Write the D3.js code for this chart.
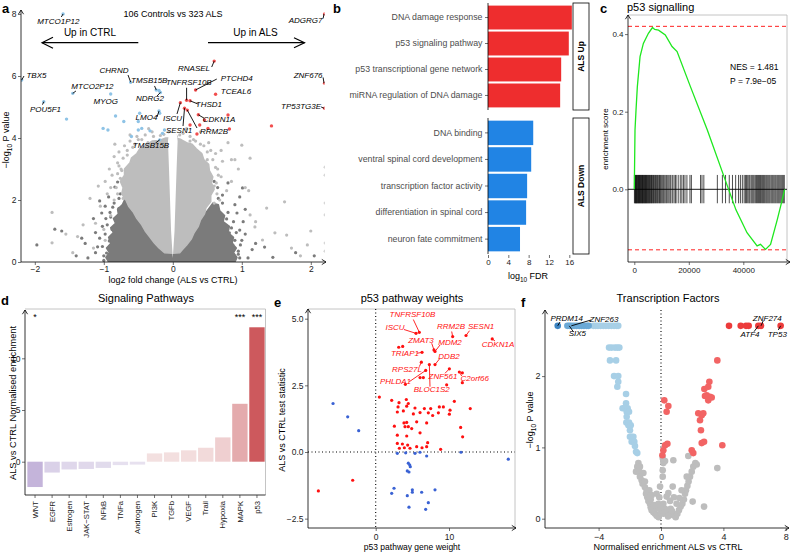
<!DOCTYPE html>
<html><head><meta charset="utf-8">
<script src="https://cdn.jsdelivr.net/npm/d3@7"></script>
<style>body{margin:0;background:#fff}svg{display:block}</style>
</head><body><svg id="fig" width="792" height="552"></svg>
<script>
const FONT = '"Liberation Sans", Arial, Helvetica, sans-serif';

// ================= DATA =================
// ---- panel a: volcano (log2FC, -log10 P) ----
const aLightCloud = [[0,0.28],[-0.12,0.3],[-0.2,0.45],[-0.27,0.62],[-0.33,0.8],[-0.4,1.0],[-0.45,1.2],[-0.52,1.4],[-0.57,1.6],[-0.64,1.8],[-0.68,2.0],[-0.74,2.2],[-0.72,2.4],[-0.76,2.6],[-0.7,2.8],[-0.7,3.0],[-0.62,3.2],[-0.6,3.35],[-0.52,3.5],[-0.48,3.65],[-0.38,3.78],[-0.3,3.9],[-0.2,3.92],[-0.1,4.0],[0.05,4.0],[0.12,3.95],[0.2,3.85],[0.28,3.8],[0.34,3.65],[0.42,3.5],[0.45,3.3],[0.52,3.15],[0.53,2.95],[0.58,2.75],[0.56,2.55],[0.6,2.35],[0.55,2.15],[0.55,1.95],[0.48,1.75],[0.46,1.55],[0.4,1.35],[0.37,1.15],[0.31,0.95],[0.27,0.75],[0.2,0.55],[0.14,0.4],[0.1,0.3]];
const aDarkCloud = [[-0.93,0],[-0.97,0.15],[-0.92,0.3],[-0.96,0.45],[-0.9,0.6],[-0.93,0.8],[-0.86,0.95],[-0.9,1.1],[-0.83,1.25],[-0.86,1.4],[-0.79,1.55],[-0.8,1.7],[-0.73,1.85],[-0.7,2.0],[-0.6,1.95],[-0.5,1.6],[0.45,1.5],[0.58,1.9],[0.66,1.85],[0.68,1.65],[0.75,1.5],[0.73,1.3],[0.82,1.15],[0.8,0.95],[0.88,0.8],[0.86,0.6],[0.92,0.45],[0.88,0.3],[0.93,0.15],[0.9,0]];
const aEmptyWedge = [[0,0.12],[-0.025,1],[-0.04,2],[-0.055,3],[-0.07,3.9],[-0.06,4.1],[0.06,4.1],[0.07,3.9],[0.055,3],[0.04,2],[0.025,1]];
const aLightPts = [[-1.75,1.6],[-1.75,0.62],[-1.3,1.2],[-1.38,0.82],[-1.12,1.25],[-1.05,1.8],[-1.08,2.45],[-0.98,2.6],[-0.92,3.0],[-0.85,3.4],[-0.78,3.55],[-0.7,3.75],[-0.62,3.9],[-0.52,4.05],[-0.4,4.1],[-0.3,4.2],[-0.18,4.08],[-1.2,2.05],[-0.95,2.2],[-0.9,1.5],[-1.0,1.05],[-0.88,2.8],[-0.8,3.2],[-1.15,0.45],[-0.98,0.7],[-0.85,2.0],[-0.9,2.4],[-0.75,3.0],[-0.66,3.45],[-0.58,3.7],[-1.45,0.3],[-1.55,0.9],
[0.05,4.05],[0.15,4.15],[0.25,4.05],[0.33,3.9],[0.45,3.75],[0.55,3.6],[0.8,3.85],[0.9,3.3],[0.72,3.25],[0.65,3.0],[0.95,3.0],[1.0,3.77],[1.12,3.35],[0.85,3.3],[1.05,2.4],[1.1,2.3],[1.36,1.74],[1.62,1.94],[1.12,1.52],[1.2,1.3],[1.19,1.13],[1.48,0.94],[1.65,0.87],[1.72,0.45],[1.3,0.71],[1.85,0.2],[0.85,2.6],[0.7,2.75],[0.78,2.3],[0.68,2.0],[1.95,0.55],[2.0,1.0],[2.21,3.06],[2.21,2.8],[2.21,1.9],[2.21,1.52],[2.21,0.61],[2.21,0.35],[0.62,3.5],[0.5,3.3],[-0.5,3.95],[-0.35,4.3],[0.2,4.3],[-0.06,4.2],
[-0.72,3.35],[-0.66,3.6],[-0.55,3.8],[-0.45,3.95],[-0.28,4.05],[-0.13,4.12],[0.1,4.1],[0.3,3.95],[0.4,3.8],[0.5,3.55],[0.58,3.3],[0.62,3.05],[0.66,2.8],[0.63,2.55],[-0.8,2.85],[-0.78,3.1],[-0.82,2.4],[-0.8,2.2],[0.52,3.85],[0.7,3.6],[-0.62,4.1],[-0.84,3.8],[0.4,4.2],[-0.76,2.7],[-0.74,2.95],[0.6,2.45],[0.64,2.2],[0.6,1.9],[-0.72,2.05],[-0.36,3.85],[0.25,3.9]];
const aDarkPts = [[-1.97,0.55],[-1.71,1.06],[-1.61,1.0],[-1.32,0.77],[-1.23,0.13],[-1.06,1.97],[-1.03,1.58],[-1.06,0.77],[-1.09,0.49],[-0.96,0.29],[-0.91,1.6],[-0.97,1.4],[-0.87,1.77],[-0.78,1.73],[-0.84,2.42],[-0.8,2.58],[-0.67,2.97],[-1.02,1.15],[-1.12,0.95],[-1.0,0.05],[-0.98,1.8],[-0.93,2.1],[-0.76,2.2],[-0.7,2.35],[-0.65,2.6],[-1.27,0.6],[-1.4,0.2],
[0.8,2.55],[1.01,2.39],[0.97,2.1],[0.72,2.16],[0.93,1.58],[0.78,1.39],[0.97,1.03],[0.82,0.94],[0.87,0.55],[1.33,0.48],[1.09,0.13],[0.97,0.13],[1.0,0.7],[1.02,1.3],[0.9,1.85],[0.65,2.4],[0.6,2.6],[0.95,0.35],[1.15,0.4],[1.05,1.7],[1.45,0.15],[1.78,0.3],[2.05,0.2],
[-1.0,0.2],[-1.02,0.5],[-0.98,0.9],[-0.95,1.2],[-0.9,1.45],[-0.85,1.9],[-0.78,2.05],[0.95,0.25],[0.98,0.55],[0.92,0.95],[0.88,1.3],[0.8,1.6],[0.72,1.9],[0.66,2.05],[1.05,0.9],[-1.12,0.3],[-1.15,1.4],[1.2,0.6],[-0.88,1.05],[-0.92,0.68],[0.85,1.1],[0.9,0.7]];
const aBlue = [[-1.59,8.0],[-2.19,5.87],[-1.87,5.17],[-1.45,5.44],[-0.9,5.42],[-0.61,5.8],[-0.24,5.55],[-0.2,5.53],[-0.18,5.47],[-0.2,4.87],[-0.19,3.94],[-1.54,4.61],[-1.01,4.31],[-0.94,4.26],[-0.83,4.71],[-0.71,4.53],[-0.5,4.53],[-0.48,4.8],[-0.5,4.26],[-0.45,4.31],[-0.19,4.8],[-0.12,4.26],[-0.33,4.23],[-0.15,4.15],[-0.6,4.05]];
const aRed = [[0.6,6.48],[0.33,5.55],[0.62,5.41],[0.2,5.22],[0.25,5.2],[0.11,5.14],[0.17,4.96],[0.21,4.9],[0.37,4.75],[0.46,4.58],[0.39,4.42],[0.8,4.74],[0.82,4.29],[0.51,4.31],[0.25,4.42],[1.43,4.39],[2.2,8.0],[2.2,5.77],[2.2,4.96],[0.35,4.13]];
const aGenes = [["MTCO1P12",-1.59,8.0],["TBX5",-2.19,5.87],["POU5F1",-1.87,5.17],["MTCO2P12",-1.45,5.44],["MYOG",-0.9,5.42],["CHRND",-0.61,5.8],["TMSB15B",-0.24,5.55],["NDRG2",-0.18,5.47],["LMO4",-0.2,4.87],["TMSB15B ",-0.19,3.94],["TNFRSF10B",0.2,5.22],["RNASEL",0.6,6.48],["PTCHD4",0.33,5.55],["TCEAL6",0.62,5.41],["THSD1",0.25,5.2],["ISCU",0.11,5.14],["CDKN1A",0.37,4.75],["SESN1",0.17,4.96],["RRM2B",0.21,4.9],["ADGRG7",2.2,8.0],["ZNF676",2.2,5.77],["TP53TG3E",2.2,4.96]];
// label layout (pixel offsets of text centre and leader start, relative to the point)
const aLabelLayout = {"MTCO1P12":[-4.8,10,-1.8,3],"TBX5":[14.8,-2,2.3,-4],"POU5F1":[1.7,10.4,-1.3,2.9],"MTCO2P12":[19.7,-3.9,3.2,-2.4],"MYOG":[-4.9,10,null,null],"CHRND":[-16.7,-9.2,-2.7,-7.2],"TMSB15B":[-7,-7,-1.7,-4],"NDRG2":[-10.4,8.7,-3.4,3.7],"LMO4":[-12.5,9,-2,6],"TMSB15B ":[-8.7,8.2,-4.2,3.2],"TNFRSF10B":[2.2,-15.4,0,-12.4],"RNASEL":[-20.2,9.6,-2.5,5.9],"PTCHD4":[41.2,-9.2,21.2,-10.9],"TCEAL6":[20.4,0,null,null],"THSD1":[18.9,6.2,7.9,3.2],"ISCU":[-7.9,18,-3.4,11.3],"CDKN1A":[20.7,7.7,5.7,3.4],"SESN1":[-5.5,25.1,-1.5,17.8],"RRM2B":[26.7,24.2,9.7,17.9],"ADGRG7":[-19,9.3,-1.5,4.5],"ZNF676":[-16.5,-5.5,-1.5,-5.7],"TP53TG3E":[-23.5,1,-3.5,-1.3]};
const aXTicks = [-2,-1,0,1,2], aYTicks = [0,2,4,6,8];

// ---- panel b: enrichment FDR ----
const bUpTerms = ["DNA damage response","p53 signaling pathway","p53 transcriptional gene network","miRNA regulation of DNA damage"];
const bUpFDR = [16.5, 15.9, 14.4, 14.2];
const bDownTerms = ["DNA binding","ventral spinal cord development","transcription factor activity","differentiation in spinal cord","neuron fate commitment"];
const bDownFDR = [8.9, 8.5, 7.7, 7.5, 6.3];
const bTicks = [0,4,8,12,16];

// ---- panel c: GSEA ----
const cRank  = [0,260,630,1110,2110,3330,5180,6670,7500,8890,11370,13850,15700,20630,26800,32960,37300,41360,45060,46300,48150,50000,52470,54320,55190];
const cScore = [0,0.153,0.204,0.264,0.342,0.376,0.402,0.417,0.412,0.41,0.398,0.368,0.355,0.264,0.153,0.032,-0.053,-0.112,-0.146,-0.142,-0.155,-0.142,-0.078,-0.026,0];
const cHits = [40,260,410,590,700,880,1020,1240,1390,1530,1760,1900,2080,2310,2450,2620,2870,3010,3180,3420,3560,3790,3950,4120,4380,4520,4760,4990,5130,5370,5620,5800,6040,6310,6490,6770,7020,7260,7540,7810,8090,8420,8650,8990,9270,9560,9880,10240,10610,10930,11320,11750,12100,12640,13080,13420,13970,14560,15040,15330,16120,16870,17450,18030,18590,19310,20420,20950,24310,24840,25520,30480,32330,33480,34850,36030,37190,38260,38940,39650,40310,40780,41160,41620,42050,42390,42870,43240,43610,43980,44420,44830,45190,45570,45960,46310,46720,47090,47450,47830,48240,48610,48990,49370,49740,50160,50530,50880,51260,51650,52010,52420,52790,53150,53530,53920,54310,54680,55050];
const cMaxES = 0.42, cMinES = -0.156;
const cXTicks = [0,20000,40000], cYTicks = [0,0.2,0.4];

// ---- panel d: signaling pathways ----
const dPathways = ["WNT","EGFR","Estrogen","JAK−STAT","NFkB","TNFa","Androgen","PI3K","TGFb","VEGF","Trail","Hypoxia","MAPK","p53"];
const dScores = [-2.45,-1.05,-0.75,-0.7,-0.6,-0.33,-0.28,0.8,0.9,1.1,1.35,2.35,5.6,13.0];
const dStars = ["*","","","","","","","","","","","","***","***"];
const dYTicks = [0,5,10];

// ---- panel e: p53 pathway weights (weight, test statistic) ----
const eRed = [[5.95,4.49],[5.5,4.45],[10.5,4.33],[12.32,4.37],[15.9,4.24],[7.95,3.83],[8.09,3.77],[6.32,3.74],[8.09,3.28],[6.23,3.37],[6.82,3.06],[10.05,3.12],[11.41,3.0],[7.32,3.28],[3.14,3.93],[3.68,3.96],[6.05,2.79],[6.5,2.79],[4.05,2.54],[9.68,2.52],[11.82,2.6],[11.82,2.97],
[0.5,2.06],[2.18,1.94],[4.18,1.97],[3.18,1.85],[4.45,1.82],[10.73,1.9],[12.9,1.63],[3.05,1.69],[4.23,1.72],[5.36,1.65],[6.64,1.63],[7.5,1.63],[8.68,1.69],[9.23,1.69],[10.14,1.57],[2.95,1.5],[3.77,1.54],[5.14,1.43],[6.05,1.48],[7.18,1.47],[7.77,1.37],[8.55,1.47],[10.05,1.42],[3.86,1.09],[4.23,1.11],[5.59,1.13],[6.95,1.09],[2.55,0.97],[4.0,0.95],[4.45,0.95],[4.91,0.88],[11.59,0.92],[2.95,0.63],[4.23,0.6],[6.05,0.72],[11.86,0.57],[2.95,0.32],[3.64,0.3],[4.36,0.26],[5.59,0.2],[3.91,0.16],[4.68,0.14],[6.32,0.16],[6.95,0.2],[8.86,0.1],[3.23,0.14],[7.09,0.35],[-7.82,-1.46],[-3.14,-1.06]];
const eBlue = [[-5.82,1.82],[-3.82,1.32],[-2.32,0.8],[2.95,-0.05],[4.09,-0.03],[5.36,-0.05],[6.04,-0.01],[6.95,-0.15],[11.64,-0.01],[18.09,-0.27],[4.45,-0.42],[4.72,-0.55],[4.63,-0.48],[4.31,-0.71],[4.54,-0.75],[2.5,-1.36],[2.18,-1.55],[4.31,-1.64],[5.0,-1.42],[5.0,-1.51],[6.27,-1.51],[8.09,-1.42],[7.18,-1.9],[6.82,-2.15],[4.54,-2.07]];
const eGenes = [["TNFRSF10B",5.95,4.49],["ISCU",5.5,4.45],["RRM2B",10.5,4.33],["SESN1",12.32,4.37],["CDKN1A",15.9,4.24],["ZMAT3",7.95,3.83],["MDM2",8.09,3.77],["TRIAP1",6.32,3.74],["DDB2",8.09,3.28],["RPS27L",6.23,3.37],["PHLDA1",6.82,3.06],["ZNF561",10.05,3.12],["C2orf66",11.41,3.0],["BLOC1S2",7.32,3.28]];
const eLabelLayout = {"TNFRSF10B":[412.5,316.7,413.3,319.5],"ISCU":[395,330,404,329.5],"RRM2B":[451,329.3,451.7,331.5],"SESN1":[481,329.3,469.5,330.7],"CDKN1A":[498,346.7,495,341],"ZMAT3":[421,342.7,431.7,343.3],"MDM2":[450,345,440,345],"TRIAP1":[405,356,417,353.3],"DDB2":[449,359.3,440,358.3],"RPS27L":[407,371.7,419.3,366.7],"PHLDA1":[395.5,384.3,409.3,381.7],"ZNF561":[443,379.3,445,373.3],"C2orf66":[474.7,380.7,461.7,376],"BLOC1S2":[431.7,391.7,430,386.7]};
const eXTicks = [0,10], eYTicks = [-2.5,0,2.5,5];

// ---- panel f: transcription factors ----
const fGray = [[-1.45,0.78],[-1.52,0.73],[-1.6,0.66],[-1.39,0.66],[-1.35,0.59],[-1.24,0.54],[-1.18,0.49],[-1.03,0.44],[-0.92,0.39],[-0.96,0.35],[-0.88,0.3],[-0.81,0.25],[-0.71,0.21],[-0.66,0.16],[-0.6,0.12],[-0.49,0.09],[-0.38,0.07],[-0.28,0.04],[-0.15,0.02],[-0.32,0.14],[-0.45,0.19],[-0.66,0.27],[-0.17,0.21],[-0.11,0.3],[-0.28,0.35],[-0.06,0.45],[0.11,0.59],[0.11,0.68],[0.15,0.78],[0.26,0.81],[0.11,0.85],[-1.13,0.64],[-1.03,0.52],[-0.75,0.4],[-0.6,0.33],[-1.35,0.73],
[0.15,0.21],[0.26,0.14],[0.36,0.1],[0.58,0.07],[0.79,0.05],[0.94,0.02],[1.05,0.07],[1.15,0.12],[1.26,0.17],[1.37,0.21],[1.47,0.27],[1.54,0.35],[1.6,0.4],[1.69,0.46],[1.77,0.52],[1.86,0.59],[1.97,0.66],[2.07,0.73],[2.2,0.78],[2.29,0.76],[1.75,0.88],[0.79,0.82],[0.75,0.45],[0.36,0.31],[0.58,0.25],[1.0,0.21],[2.03,0.24],[2.76,0.17],[3.61,0.71],[0.47,0.36],[0.83,0.3],[1.32,0.4],[1.18,0.29],[1.65,0.59],[0.62,0.14],[0.0,0.08],[0.15,0.07],[0.45,0.03],[-0.05,0.15],[0.7,0.11]];
const fBlueTop = [[-6.0,2.705],[-5.88,2.705],[-5.75,2.705],[-5.58,2.705],[-5.41,2.705],[-5.24,2.705],[-5.09,2.705],[-4.94,2.705],[-4.76,2.705],[-4.64,2.705]];
const fBlueDark = [[-6.62,2.705]];
const fBlue = [[-4.34,2.705],[-4.19,2.705],[-4.04,2.705],[-3.87,2.705],[-3.7,2.705],[-3.53,2.705],[-3.35,2.705],[-3.18,2.705],[-3.01,2.705],[-2.84,2.705],[-2.74,2.705],
[-3.33,2.4],[-3.16,2.4],[-2.95,2.4],[-2.8,2.4],[-2.67,2.4],[-3.27,2.22],[-2.88,2.22],[-3.01,2.0],[-2.74,2.0],[-2.74,1.92],[-2.8,1.85],[-2.24,1.75],[-2.24,1.62],[-2.46,1.55],[-2.31,1.55],[-2.14,1.55],[-2.2,1.5],[-2.05,1.5],[-2.2,1.43],[-2.22,1.35],[-2.05,1.35],[-2.09,1.31],[-1.94,1.31],[-1.99,1.24],[-1.99,1.15],[-1.88,1.15],[-1.77,1.15],[-1.88,1.08],[-1.71,1.08],[-1.67,1.02],[-1.6,0.94],[-1.52,0.92]];
const fRed = [[0.21,1.66],[0.47,1.58],[0.36,1.5],[0.26,1.03],[0.41,1.05],[0.15,0.96],[0.09,0.89],[1.97,0.96],[2.07,0.92],[2.39,1.48],[2.61,1.45],[2.71,1.48],[2.5,1.38],[2.56,1.24],[2.61,1.06],[2.76,1.08],[2.78,1.82],[2.82,1.72],[2.93,1.73],[3.03,1.85],[3.1,1.92],[3.14,1.71],[3.03,1.66],[3.25,1.7],[3.61,2.22],[3.93,1.03]];
const fRedTop = [[4.36,2.705],[5.11,2.705],[5.45,2.705],[5.62,2.705],[6.24,2.705],[6.41,2.705],[7.67,2.705]];
const fGenes = [["PRDM14",-6.62,2.705],["ZNF263",-5.75,2.705],["SIX5",-5.88,2.705],["ZNF274",6.41,2.705],["ATF4",6.24,2.705],["TP53",7.67,2.705]];
const fLabelLayout = {"PRDM14":[566.7,321,560,322],"ZNF263":[604,322,591,320],"SIX5":[577.3,336,573.3,331.7],"ZNF274":[767.3,320.5,763.3,320.7],"ATF4":[750,337,754,331.7],"TP53":[777.3,337,778.3,330]};
const fXTicks = [-4,0,4,8], fYTicks = [0,1,2];

// ================= HELPERS =================
const svg = d3.select('#fig').attr('font-family', FONT);
svg.append('rect').attr('width',792).attr('height',552).attr('fill','#fff');

function txt(g,x,y,s,o={}){
  const t=g.append('text').attr('x',x).attr('y',y).text(s)
    .attr('font-size',o.size||8).attr('fill',o.fill||'#000').attr('font-family',FONT);
  if(o.anchor) t.attr('text-anchor',o.anchor);
  if(o.italic) t.attr('font-style','italic');
  if(o.bold) t.attr('font-weight','bold');
  if(o.rotate!==undefined) t.attr('transform',`rotate(${o.rotate},${x},${y})`);
  if(o.db) t.attr('dominant-baseline',o.db);
  return t;
}
function seg(g,x1,y1,x2,y2,o={}){
  const l=g.append('line').attr('x1',x1).attr('y1',y1).attr('x2',x2).attr('y2',y2)
    .attr('stroke',o.stroke||'#000').attr('stroke-width',o.w||0.8);
  if(o.dash) l.attr('stroke-dasharray',o.dash);
  return l;
}
function vAxis(g,x,y1,y2,arrow){
  seg(g,x,y1,x,y2);
  if(arrow) g.append('path').attr('d',`M${x-2.6},${y2+4.2}L${x},${y2}L${x+2.6},${y2+4.2}`).attr('fill','none').attr('stroke','#000').attr('stroke-width',0.8);
}
function hAxis(g,y,x1,x2,arrow){
  seg(g,x1,y,x2,y);
  if(arrow) g.append('path').attr('d',`M${x2-4.2},${y-2.6}L${x2},${y}L${x2-4.2},${y+2.6}`).attr('fill','none').attr('stroke','#000').attr('stroke-width',0.8);
}
function styleAxis(ax,size,col){
  ax.attr('font-size',size).attr('font-family',FONT);
  ax.select('.domain').remove();
  ax.selectAll('.tick line').attr('stroke','#333').attr('stroke-width',0.7);
  ax.selectAll('.tick text').attr('fill',col||'#222');
}
function axisL(g,scale,ticks,x,fmt,size,pad){
  const a=d3.axisLeft(scale).tickSize(3).tickPadding(pad===undefined?1.5:pad);
  if(ticks) a.tickValues(ticks); if(fmt) a.tickFormat(fmt);
  const ax=g.append('g').attr('transform',`translate(${x},0)`).call(a); styleAxis(ax,size); return ax;
}
function axisB(g,scale,ticks,y,fmt,size,pad){
  const a=d3.axisBottom(scale).tickSize(3).tickPadding(pad===undefined?1.5:pad);
  if(ticks) a.tickValues(ticks); if(fmt) a.tickFormat(fmt);
  const ax=g.append('g').attr('transform',`translate(0,${y})`).call(a); styleAxis(ax,size); return ax;
}
function dots(g,data,xs,ys,r,fill){
  g.append('g').selectAll('circle').data(data).join('circle')
    .attr('cx',d=>xs(d[0])).attr('cy',d=>ys(d[1])).attr('r',r).attr('fill',fill);
}
function subLabel(g,x,y,pre,sub,post,size,rot){
  const t=g.append('text').attr('font-size',size).attr('font-family',FONT).attr('fill','#000').attr('text-anchor','middle')
    .attr('transform',`translate(${x},${y})${rot?` rotate(${rot})`:''}`);
  t.append('tspan').text(pre);
  t.append('tspan').text(sub).attr('font-size',size*0.72).attr('dy',size*0.3);
  t.append('tspan').text(post).attr('dy',-size*0.3);
  return t;
}

// ================= PANEL A =================
(function(){
  const g=svg.append('g');
  const x=d3.scaleLinear().domain([-2.2,2.2]).range([21,324.6]);
  const y=d3.scaleLinear().domain([0,8]).range([262,14]);
  svg.append('defs').append('clipPath').attr('id','clipA').append('rect').attr('x',21).attr('y',0).attr('width',303.6).attr('height',262);
  const pg=g.append('g').attr('clip-path','url(#clipA)');
  const poly=d3.line().x(d=>x(d[0])).y(d=>y(d[1])).curve(d3.curveLinearClosed);
  pg.append('path').attr('d',poly(aDarkCloud)).attr('fill','#7b7b7b').attr('stroke','#7b7b7b').attr('stroke-width',1.5).attr('stroke-linejoin','round');
  dots(pg,aDarkPts,x,y,1.6,'#7b7b7b');
  pg.append('path').attr('d',poly(aLightCloud)).attr('fill','#bdbdbd').attr('stroke','#bdbdbd').attr('stroke-width',1.5).attr('stroke-linejoin','round');
  dots(pg,aLightPts,x,y,1.6,'#bdbdbd');
  pg.append('path').attr('d',poly(aEmptyWedge)).attr('fill','#fff');
  dots(pg,aBlue,x,y,1.7,'#8ec3e6');
  dots(pg,aRed,x,y,1.7,'#f24e4e');
  // labels
  aGenes.forEach(([n,gx,gy])=>{
    const L=aLabelLayout[n], px=x(gx), py=y(gy);
    if(L[2]!==null) seg(g,px+L[2],py+L[3],Math.min(px,324),py,{w:0.9});
    txt(g,px+L[0],py+L[1],n.trim(),{size:8,italic:true,anchor:'middle'});
  });
  vAxis(g,21,262,10,true); hAxis(g,262,21,326,true);
  axisL(g,y,aYTicks,21,d3.format('d'),8.5,1.5);
  axisB(g,x,aXTicks,262,d3.format('d'),8.5,0.5);
  txt(g,173,283,'log2 fold change (ALS vs CTRL)',{size:9,anchor:'middle'});
  subLabel(g,9,140,'−log','10',' P value',9,-90);
  txt(g,173,16.5,'106 Controls vs 323 ALS',{size:9,anchor:'middle'});
  txt(g,90,35.5,'Up in CTRL',{size:10,anchor:'middle'});
  txt(g,255.5,35.5,'Up in ALS',{size:10,anchor:'middle'});
  seg(g,138.3,42.7,42,42.7,{w:1.2});
  g.append('path').attr('d','M53,37.2L42,42.7L53,48.2').attr('fill','none').attr('stroke','#000').attr('stroke-width',1.2);
  seg(g,208,42.7,304.5,42.7,{w:1.2});
  g.append('path').attr('d','M294,37.7L304.5,42.7L294,47.7').attr('fill','none').attr('stroke','#000').attr('stroke-width',1.2);
  txt(g,2,13,'a',{size:13,bold:true});
})();

// ================= PANEL B =================
(function(){
  const g=svg.append('g');
  const x=d3.scaleLinear().domain([0,16]).range([488,569.3]);
  const yU=d3.scaleBand().domain(bUpTerms).range([3,110]).paddingInner(0.08).paddingOuter(0.1);
  const yD=d3.scaleBand().domain(bDownTerms).range([118,254]).paddingInner(0.08).paddingOuter(0.1);
  g.append('g').selectAll('rect').data(bUpTerms).join('rect')
    .attr('x',x(0)).attr('y',d=>yU(d)).attr('height',yU.bandwidth())
    .attr('width',(d,i)=>x(bUpFDR[i])-x(0)).attr('fill','#ee2d2e');
  g.append('g').selectAll('rect').data(bDownTerms).join('rect')
    .attr('x',x(0)).attr('y',d=>yD(d)).attr('height',yD.bandwidth())
    .attr('width',(d,i)=>x(bDownFDR[i])-x(0)).attr('fill','#2184e4');
  [axisL(g,yU,null,488,null,8.8,2.5),axisL(g,yD,null,488,null,8.8,2.5)].forEach(a=>a.selectAll('.tick text').attr('fill','#4d4d4d'));
  vAxis(g,488,3,110,false); vAxis(g,488,118,254,false);
  axisB(g,x,bTicks,255,d3.format('d'),8,1.2);
  subLabel(g,528,279,'log','10',' FDR',9,0);
  g.append('rect').attr('x',573).attr('y',3).attr('width',16).attr('height',107).attr('fill','#fff').attr('stroke','#000').attr('stroke-width',0.8);
  g.append('rect').attr('x',573).attr('y',118).attr('width',16).attr('height',136).attr('fill','#fff').attr('stroke','#000').attr('stroke-width',0.8);
  txt(g,581,56.5,'ALS Up',{size:8.5,bold:true,anchor:'middle',rotate:-90,db:'central'});
  txt(g,581,186,'ALS Down',{size:8.5,bold:true,anchor:'middle',rotate:-90,db:'central'});
  txt(g,333,13,'b',{size:13,bold:true});
})();

// ================= PANEL C =================
(function(){
  const g=svg.append('g');
  const x=d3.scaleLinear().domain([0,40000]).range([634.3,743.3]);
  const y=d3.scaleLinear().domain([0,0.4]).range([189.3,34.1]);
  seg(g,628,15,787,15,{stroke:'#b5b5b5'}); seg(g,787,15,787,262,{stroke:'#b5b5b5'});
  seg(g,628,y(cMaxES),787,y(cMaxES),{stroke:'#ff2020',w:1,dash:'4,3'});
  seg(g,628,y(cMinES),787,y(cMinES),{stroke:'#ff2020',w:1,dash:'4,3'});
  g.append('g').selectAll('line').data(cHits).join('line')
    .attr('x1',d=>x(d)).attr('x2',d=>x(d)).attr('y1',y(0.037)).attr('y2',y(-0.036))
    .attr('stroke','#000').attr('stroke-width',0.7);
  seg(g,628,y(0),787,y(0),{w:0.9});
  const pts=cRank.map((r,i)=>[r,cScore[i]]);
  g.append('path').attr('d',d3.line().x(d=>x(d[0])).y(d=>y(d[1]))(pts))
    .attr('fill','none').attr('stroke','#1ee81e').attr('stroke-width',1.3);
  vAxis(g,628,262,15,true); hAxis(g,262,628,790,true);
  axisL(g,y,cYTicks,628,d3.format('.1f'),8,1.5);
  axisB(g,x,cXTicks,262,d3.format('d'),8,2);
  txt(g,605,139,'enrichment score',{size:8,anchor:'middle',rotate:-90,db:'central'});
  txt(g,627,10.5,'p53 signalling',{size:11});
  txt(g,730,70,'NES = 1.481',{size:8.5});
  txt(g,730,83.5,'P = 7.9e−05',{size:8.5});
  txt(g,600,13,'c',{size:13,bold:true});
})();

// ================= PANEL D =================
(function(){
  const g=svg.append('g');
  const x=d3.scaleBand().domain(dPathways).range([26.5,265.5]).paddingInner(0.1).paddingOuter(0.05);
  const y=d3.scaleLinear().domain([0,10]).range([461.7,358.3]);
  const neg=d3.interpolateRgb('#ebe7f2','#c4b4da'), pos=d3.interpolateRgb('#f6e9e9','#cd595d');
  const col=v=>v<0?neg(Math.min(1,-v/2.45)):pos(Math.min(1,v/13));
  seg(g,25,309,265.5,309,{stroke:'#b5b5b5'}); seg(g,265.5,309,265.5,495,{stroke:'#b5b5b5'});
  g.append('g').selectAll('rect').data(dPathways).join('rect')
    .attr('x',d=>x(d)).attr('width',x.bandwidth())
    .attr('y',(d,i)=>y(Math.max(0,dScores[i])))
    .attr('height',(d,i)=>Math.abs(y(dScores[i])-y(0)))
    .attr('fill',(d,i)=>col(dScores[i]));
  g.append('g').selectAll('text').data(dPathways).join('text')
    .attr('x',d=>x(d)+x.bandwidth()/2).attr('y',320).attr('text-anchor','middle')
    .attr('font-size',9).attr('font-family',FONT).text((d,i)=>dStars[i]);
  vAxis(g,25,495,310,true); hAxis(g,495,25,265.5,false);
  axisL(g,y,dYTicks,25,d3.format('d'),8.5,1.5);
  const ax=axisB(g,x,null,495,null,7.6,1.5);
  ax.selectAll('.tick text').attr('transform','rotate(-90)').attr('x',-6).attr('y',0).attr('dy','0.35em').attr('text-anchor','end');
  txt(g,12.5,403,'ALS vs CTRL Normalised enrichment',{size:9.3,anchor:'middle',rotate:-90,db:'central'});
  txt(g,146,302,'Signaling Pathways',{size:11,anchor:'middle'});
  txt(g,1,305,'d',{size:13,bold:true});
})();

// ================= PANEL E =================
(function(){
  const g=svg.append('g');
  const x=d3.scaleLinear().domain([0,10]).range([375.7,449]);
  const y=d3.scaleLinear().domain([0,5]).range([452,318.7]);
  seg(g,308,309,515,309,{stroke:'#b5b5b5'}); seg(g,515,309,515,528,{stroke:'#b5b5b5'});
  seg(g,x(0),309,x(0),528,{w:1.1,dash:'1,2.5'});
  seg(g,308,y(0),515,y(0),{w:1.1,dash:'1,2.5'});
  dots(g,eBlue,x,y,1.6,'#3a62d4');
  dots(g,eRed,x,y,1.6,'#ff1010');
  eGenes.forEach(([n,gx,gy])=>{
    const L=eLabelLayout[n];
    seg(g,L[2],L[3],x(gx),y(gy),{stroke:'#ff1010',w:0.9});
    txt(g,L[0],L[1],n,{size:8,italic:true,anchor:'middle',fill:'#ff1010'});
  });
  vAxis(g,308,528,309,true); hAxis(g,528,308,516,true);
  axisL(g,y,eYTicks,308,d3.format('.1f'),8.5,1.5);
  axisB(g,x,eXTicks,528,d3.format('d'),8.5,3);
  txt(g,412,550,'p53 pathway gene weight',{size:8.5,anchor:'middle'});
  txt(g,282,420,'ALS vs CTRL test statistic',{size:9,anchor:'middle',rotate:-90,db:'central'});
  txt(g,412,302,'p53 pathway weights',{size:11,anchor:'middle'});
  txt(g,274,307,'e',{size:13,bold:true});
})();

// ================= PANEL F =================
(function(){
  const g=svg.append('g');
  const x=d3.scaleLinear().domain([-4,8]).range([598.6,785.8]);
  const y=d3.scaleLinear().domain([0,2]).range([518.7,376.1]);
  seg(g,x(0),310,x(0),528,{w:1.1,dash:'1,2.5'});
  dots(g,fGray,x,y,3.3,'#bdbdbd');
  dots(g,fBlue,x,y,3.3,'#a7cfe6');
  dots(g,fBlueTop,x,y,3.3,'#6ba9d6');
  dots(g,fBlueDark,x,y,3.3,'#3d85c2');
  dots(g,fRed,x,y,3.3,'#f26464');
  dots(g,fRedTop,x,y,3.3,'#ec3b3b');
  fGenes.forEach(([n,gx,gy])=>{
    const L=fLabelLayout[n];
    seg(g,L[2],L[3],x(gx),y(gy),{w:0.9});
    txt(g,L[0],L[1],n,{size:8,italic:true,anchor:'middle'});
  });
  vAxis(g,545,528,310,true); hAxis(g,528,545,789,true);
  axisL(g,y,fYTicks,545,d3.format('d'),9,1.5);
  axisB(g,x,fXTicks,528,d3.format('d'),9,2.5);
  txt(g,668,550,'Normalised enrichment ALS vs CTRL',{size:9,anchor:'middle'});
  subLabel(g,530,420,'−log','10',' P value',9,-90).attr('dominant-baseline','central');
  txt(g,668,302,'Transcription Factors',{size:11,anchor:'middle'});
  txt(g,521,307,'f',{size:13,bold:true});
})();
</script></body></html>
